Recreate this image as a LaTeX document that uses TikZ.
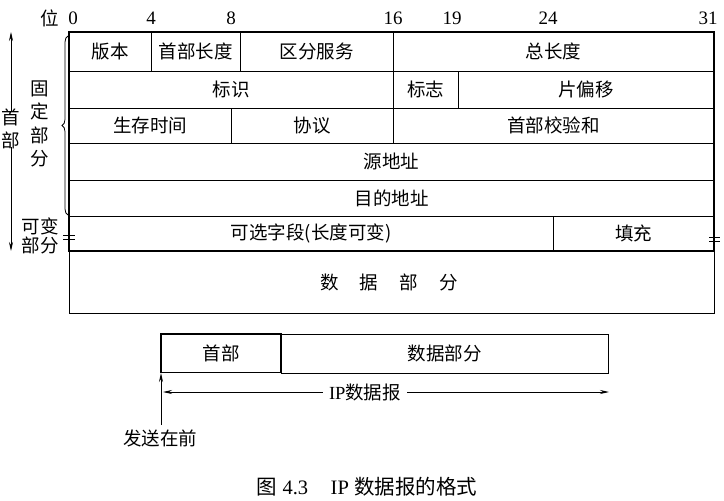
\documentclass[tikz,border=0pt]{standalone}
\usepackage{fontspec}
\setmainfont{Liberation Serif}
\newfontfamily\cjk{Noto Sans CJK SC}
\usetikzlibrary{decorations.pathreplacing,arrows.meta}
\tikzset{
  x=1pt,y=1pt,
  lbl/.style={inner sep=0pt,font=\fontsize{18.5}{22}\selectfont\cjk},
  num/.style={inner sep=0pt,font=\fontsize{19}{22}\selectfont},
  grid/.style={line width=1pt},
  tip/.style={-{Stealth[length=9pt,width=4pt]}},
}
\newcommand\fieldbox[6]{%
  \draw[grid] (#2,-#3) rectangle (#4,-#5);
  \node[lbl] (#1) at ({(#2+#4)/2},{-(#3+#5)/2}) {#6};}
\begin{document}
\begin{tikzpicture}
\useasboundingbox (0,0) rectangle (724,-501);
% bit numbers
\node[lbl] (wei) at (50,-18) {位};
\node[num] (b0) at (73,-18) {0};
\node[num] (b4) at (151,-18) {4};
\node[num] (b8) at (231,-18) {8};
\node[num] (b16) at (393,-18) {16};
\node[num] (b19) at (452,-18) {19};
\node[num] (b24) at (548,-18) {24};
\node[num] (b31) at (708,-18) {31};
% rows
\fieldbox{ver}{69}{32}{151}{71.5}{版本}
\fieldbox{ihl}{151}{32}{240}{71.5}{首部长度}
\fieldbox{ds}{240}{32}{393}{71.5}{区分服务}
\fieldbox{tl}{393}{32}{714}{71.5}{总长度}
\fieldbox{id}{69}{71.5}{393}{108}{标识}
\fieldbox{flag}{393}{71.5}{458}{108}{标志}
\fieldbox{frag}{458}{71.5}{714}{108}{片偏移}
\fieldbox{ttl}{69}{108}{231}{143.5}{生存时间}
\fieldbox{proto}{231}{108}{393}{143.5}{协议}
\fieldbox{csum}{393}{108}{714}{143.5}{首部校验和}
\fieldbox{src}{69}{143.5}{714}{180}{源地址}
\fieldbox{dst}{69}{180}{714}{216}{目的地址}
\fieldbox{opt}{69}{216}{553}{251}{可选字段(长度可变)}
\fieldbox{pad}{553}{216}{714}{251}{填充}
\draw[grid] (69,-251) rectangle (714,-313);
\node[lbl] (data) at (389,-282) {数\hspace{1.15em}据\hspace{1.15em}部\hspace{1.15em}分};
\draw[line width=1.4pt] (69,-32) rectangle (714,-251);
% variable-length marks
\draw[line width=0.8pt] (63,-235) -- (75,-235) (63,-239.5) -- (75,-239.5);
\draw[line width=0.8pt] (709,-237) -- (720,-237) (709,-241.5) -- (720,-241.5);
% left annotations
\node[lbl,align=center,font=\fontsize{18.5}{23}\selectfont\cjk] (hd) at (11,-129) {首\\部};
\coordinate (hdtop) at (11,-32);
\coordinate (hdbot) at (11,-251);
\draw[tip,line width=0.8pt] (hd.north) ++(0,-2) -- (hdtop);
\draw[tip,line width=0.8pt] (hd.south) ++(0,2) -- (hdbot);
\node[lbl,align=center,font=\fontsize{18.5}{23.3}\selectfont\cjk] (fixed) at (40,-124) {固\\定\\部\\分};
\draw[line width=0.8pt,decorate,decoration={brace,amplitude=6pt}] (68,-215) -- (68,-36);
\node[lbl,align=center,font=\fontsize{18.5}{18.5}\selectfont\cjk] (var) at (40,-236) {可变\\部分};
% bottom datagram
\draw[grid] (281,-334) rectangle (608,-373);
\node[lbl] (dpart) at (444.5,-353.5) {数据部分};
\draw[line width=1.5pt] (161,-334) rectangle (281,-372.5);
\node[lbl] (hpart) at (221,-353) {首部};
\node[lbl,fill=white,inner xsep=6pt] (ipd) at (365,-392) {{\rmfamily IP}数据报};
\coordinate (ipl) at (163,-392);
\coordinate (ipr) at (609,-392);
\draw[tip,line width=0.8pt] (ipd.west) -- (ipl);
\draw[tip,line width=0.8pt] (ipd.east) -- (ipr);
\node[lbl] (send) at (160,-438) {发送在前};
\coordinate (sendtop) at (161,-373);
\draw[tip,line width=0.9pt] (send.north -| sendtop) ++(0,4) -- (sendtop);
% caption
\node[inner sep=0pt,font=\fontsize{20.5}{22}\selectfont] (cap) at (367,-487) {{\cjk 图} 4.3\hspace{1.1em}IP {\cjk 数据报的格式}};
\end{tikzpicture}
\end{document}
